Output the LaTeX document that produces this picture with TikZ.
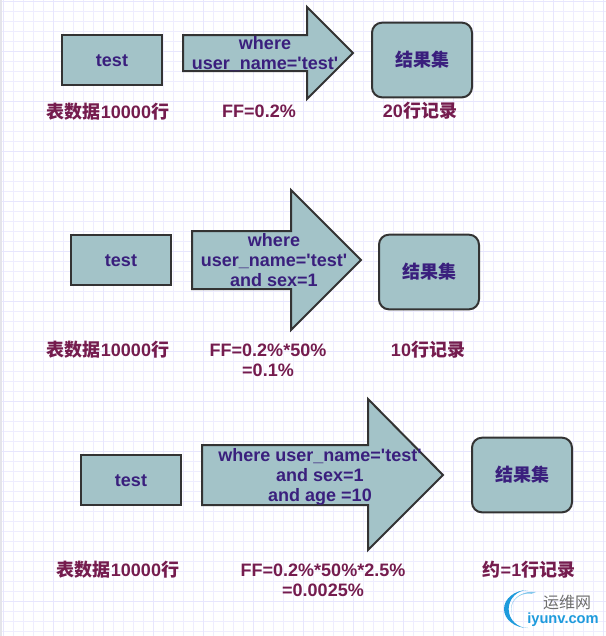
\documentclass[tikz,border=0pt]{standalone}
\usepackage{fontspec}
\setmainfont{Liberation Sans}
\newfontfamily\cjk{Noto Sans CJK SC}
\definecolor{Paper}{HTML}{FFFFFF}
\definecolor{GridLine}{HTML}{EEEDFE}
\definecolor{GridMajor}{HTML}{E7E6FD}
\definecolor{Strip}{HTML}{E4E4EA}
\definecolor{Shape}{HTML}{A3C3C8}
\definecolor{Edge}{HTML}{333333}
\definecolor{Query}{HTML}{3A1F7D}
\definecolor{Label}{HTML}{751C4E}
\definecolor{LogoBlue}{HTML}{1E9BDC}
\definecolor{LogoGray}{HTML}{6E6E6E}

\begin{document}
\begin{tikzpicture}[x=0.75pt, y=-0.75pt,
  rect/.style={draw=Edge, line width=1.5pt, fill=Shape, minimum width=75pt, minimum height=37.5pt, inner sep=0pt, text=Query, text height=10pt, text depth=0pt, font=\bfseries\fontsize{13.5}{15}\selectfont},
  result/.style={rect, rounded corners=7.5pt, minimum height=56pt},
  bigarrow/.style={draw=Edge, line width=1.5pt, fill=Shape, line join=miter},
  query/.style={align=center, inner sep=0pt, text=Query, font=\bfseries\fontsize{13.5}{15}\selectfont},
  info/.style={align=center, inner sep=0pt, text=Label, font=\bfseries\fontsize{13.5}{15}\selectfont} ]

\useasboundingbox (0,0) rectangle (606,636);
\fill[Paper] (0,0) rectangle (606,636);
\foreach \x in {3,13,...,603} \draw[GridLine, line width=0.75pt] (\x,0) -- (\x,636);
\foreach \y in {1,11,...,631} \draw[GridLine, line width=0.75pt] (0,\y) -- (606,\y);
\foreach \x in {3,53,...,603} \draw[GridMajor, line width=0.75pt] (\x,0) -- (\x,636);
\foreach \y in {1,51,...,631} \draw[GridMajor, line width=0.75pt] (0,\y) -- (606,\y);
\fill[Strip] (0,0) rectangle (2,636);

% first row
\node[rect] (test1) at (112,60) {test};
\draw[bigarrow] (183,35) -- (307,35) -- (307,7) -- (353,53) -- (307,99) -- (307,71) -- (183,71) -- cycle;
\node[query] (where1) at (265,54) {where\\user\_name=\textquotesingle test\textquotesingle};
\node[result] (res1) at (422,60) {\cjk 结果集};
\node[info] (rows1) at (108,112) {{\cjk 表数据}10000{\cjk 行}};
\node[info] (ff1) at (259,111) {FF=0.2\%};
\node[info] (out1) at (420,111) {20{\cjk 行记录}};

% second row
\node[rect] (test2) at (121,260) {test};
\draw[bigarrow] (192,231) -- (291,231) -- (291,190) -- (361,260) -- (291,330) -- (291,289) -- (192,289) -- cycle;
\node[query] (where2) at (274,260) {where\\user\_name=\textquotesingle test\textquotesingle\\and sex=1};
\node[result] (res2) at (429,272) {\cjk 结果集};
\node[info] (rows2) at (108,350) {{\cjk 表数据}10000{\cjk 行}};
\node[info] (ff2) at (268,360) {FF=0.2\%*50\%\\=0.1\%};
\node[info] (out2) at (428,350) {10{\cjk 行记录}};

% third row
\node[rect] (test3) at (131,480) {test};
\draw[bigarrow] (202,445) -- (368,445) -- (368,399) -- (443,475) -- (368,550) -- (368,505) -- (202,505) -- cycle;
\node[query] (where3) at (320,477) {where user\_name=\textquotesingle test\textquotesingle\\and sex=1\\and age =10};
\node[result] (res3) at (522,475) {\cjk 结果集};
\node[info] (rows3) at (118,570) {{\cjk 表数据}10000{\cjk 行}};
\node[info] (ff3) at (323,580) {FF=0.2\%*50\%*2.5\%\\=0.0025\%};
\node[info] (out3) at (529,570) {{\cjk 约}=1{\cjk 行记录}};

% logo
\fill[LogoBlue] (528,590) arc (90:270:18pt and 14.25pt) arc (270:90:14.5pt and 14.25pt);
\fill[LogoBlue!55] (536,592) arc (80:200:16pt and 13pt) arc (200:80:13pt and 12pt);
\node[text=LogoGray, inner sep=0pt, font=\fontsize{12}{14}\selectfont\cjk] (logoname) at (567,602) {运维网};
\node[text=LogoBlue, inner sep=0pt, font=\bfseries\fontsize{11}{13}\selectfont] (logourl) at (563,620) {iyunv.com};

\end{tikzpicture}
\end{document}
